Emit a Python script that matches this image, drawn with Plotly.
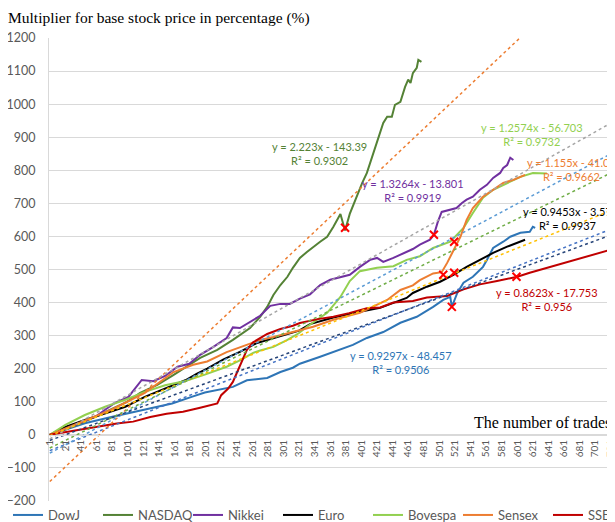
import plotly.graph_objects as go

# ---------------- data ----------------
names = ["DowJ", "NASDAQ", "Nikkei", "Euro", "Bovespa", "Sensex", "SSEC"]

dowj_t = [1, 21, 46, 80, 106, 132, 158, 183, 200, 236, 254, 280, 297, 313, 322, 348, 374, 390, 408, 429, 451, 472, 493, 506, 515, 517, 524, 532, 544, 557, 562, 570, 583, 592, 605, 617, 621, 624]
dowj_v = [0, 15, 35, 54, 68, 82, 95, 115, 128, 145, 165, 172, 190, 203, 215, 236, 257, 272, 293, 311, 339, 357, 387, 408, 417, 387, 429, 460, 478, 508, 529, 565, 584, 599, 611, 614, 629, 626]

nasdaq_t = [1, 20, 40, 60, 80, 100, 117, 139, 159, 177, 194, 216, 236, 258, 271, 280, 288, 297, 306, 313, 322, 331, 339, 348, 357, 365, 374, 380, 386, 393, 402, 408, 412, 416, 422, 429, 434, 440, 444, 451, 457, 461, 464, 467, 472, 474, 478]
nasdaq_v = [0, 15, 35, 55, 78, 100, 127, 151, 180, 206, 233, 257, 287, 323, 357, 387, 423, 453, 478, 505, 535, 553, 569, 584, 599, 629, 668, 618, 668, 711, 762, 792, 822, 853, 892, 943, 962, 962, 998, 1007, 1052, 1074, 1064, 1094, 1110, 1134, 1128]

nikkei_t = [1, 20, 40, 60, 72, 85, 102, 119, 134, 149, 165, 180, 194, 211, 228, 236, 245, 258, 271, 284, 297, 309, 322, 335, 348, 361, 374, 386, 399, 412, 421, 429, 442, 454, 467, 476, 489, 494, 499, 504, 515, 523, 530, 536, 544, 553, 562, 570, 579, 583, 588, 592, 596]
nikkei_v = [0, 18, 35, 55, 76, 97, 115, 166, 162, 178, 206, 215, 242, 266, 293, 325, 323, 342, 360, 390, 396, 396, 412, 425, 453, 469, 478, 484, 508, 529, 535, 523, 535, 547, 562, 575, 590, 605, 644, 674, 680, 686, 701, 711, 720, 741, 756, 777, 792, 807, 816, 838, 831]

euro_t = [1, 21, 46, 72, 98, 123, 149, 175, 190, 203, 224, 245, 267, 288, 306, 321, 335, 365, 399, 425, 442, 459, 467, 485, 502, 519, 536, 553, 570, 588, 601, 611]
euro_v = [0, 24, 45, 66, 85, 115, 140, 165, 185, 200, 228, 251, 278, 293, 305, 315, 335, 355, 372, 384, 399, 414, 429, 448, 463, 484, 508, 529, 550, 569, 580, 590]

bovespa_t = [1, 21, 46, 72, 98, 123, 149, 175, 200, 228, 245, 262, 271, 288, 306, 321, 331, 357, 374, 386, 399, 421, 442, 459, 476, 493, 515, 532, 544, 557, 570, 588, 605, 621, 639]
bovespa_v = [0, 30, 60, 85, 106, 130, 150, 163, 182, 206, 225, 248, 255, 266, 287, 308, 327, 369, 417, 465, 495, 505, 510, 529, 540, 565, 584, 626, 671, 717, 741, 762, 780, 792, 790]

sensex_t = [1, 20, 40, 80, 123, 160, 185, 203, 228, 245, 271, 288, 313, 339, 365, 399, 434, 451, 467, 476, 493, 504, 511, 519, 528, 536, 544, 557, 570, 583, 596, 605, 611]
sensex_v = [0, 18, 38, 76, 127, 190, 212, 222, 250, 265, 287, 296, 311, 327, 348, 369, 408, 438, 452, 468, 488, 492, 520, 559, 599, 650, 686, 720, 741, 762, 771, 780, 786]

ssec_t = [1, 21, 44, 65, 87, 108, 130, 151, 172, 194, 216, 221, 230, 236, 245, 254, 262, 270, 280, 297, 313, 322, 345, 365, 385, 408, 425, 442, 467, 485, 511, 532, 553, 575, 601, 617, 639, 660, 682, 703, 724, 732]
ssec_v = [0, 8, 15, 24, 34, 40, 54, 64, 70, 82, 95, 120, 140, 160, 210, 257, 280, 290, 305, 320, 330, 338, 350, 357, 368, 383, 385, 400, 405, 415, 420, 440, 455, 465, 478, 490, 505, 520, 535, 550, 562, 572]

# linear trendlines (as printed on the chart)
slopes = [0.9297, 2.223, 1.3264, 0.9453, 1.2574, 1.155, 0.8623]
intercepts = [-48.457, -143.39, -13.801, -3.57, -56.703, -41.02, -17.753]
r2_text = ["0.9506", "0.9302", "0.9919", "0.9937", "0.9732", "0.9662", "0.956"]

# red X marks
mark_t = [380, 494, 520, 506, 520, 600, 517]
mark_v = [626, 605, 584, 484, 490, 478, 387]

tick_vals = list(range(1, 722, 20))
tick_text = [str(v) for v in tick_vals]

# ---------------- styles ----------------
series_t = [dowj_t, nasdaq_t, nikkei_t, euro_t, bovespa_t, sensex_t, ssec_t]
series_v = [dowj_v, nasdaq_v, nikkei_v, euro_v, bovespa_v, sensex_v, ssec_v]
colors = ["#2E75B6", "#548235", "#7030A0", "#000000", "#92D050", "#ED7D31", "#C00000"]
trend_colors = ["#4472C4", "#ED7D31", "#A5A5A5", "#FFC000", "#5B9BD5", "#70AD47", "#264478"]
# label anchor positions (trade, value), in series order
label_pos = [(452, 218), (347, 850), (467, 740), (666, 653), (620, 907), (670, 801), (639, 408)]

# page geometry (body margin 8px; figure is wider/taller than the window,
# so the right part is cropped like the reference)
OFF = 8
W, H = 700, 526
L, R, T = 49 - OFF, 0, 38 - OFF
B = H - (501 - OFF)
pw, ph = W - L - R, H - T - B
px_per_trade = 561 / 720
x_max = (OFF + W - 49) / px_per_trade


def px_x(p):
    return (p - OFF - L) / pw


def px_y(p):
    return (H - B - (p - OFF)) / ph


fig = go.Figure()
for n, t, v, c in zip(names, series_t, series_v, colors):
    fig.add_trace(go.Scatter(x=t, y=v, mode="lines", name=n,
                             line=dict(color=c, width=2)))

x_end = 850
for s, b, c in zip(slopes, intercepts, trend_colors):
    fig.add_trace(go.Scatter(x=[1, x_end], y=[s * 1 + b, s * x_end + b], mode="lines",
                             line=dict(color=c, width=1.5, dash="dot"),
                             showlegend=False, hoverinfo="skip"))

fig.add_trace(go.Scatter(x=mark_t, y=mark_v, mode="markers", showlegend=False,
                         marker=dict(symbol="x-thin", size=8, color="#FF0000",
                                     line=dict(color="#FF0000", width=2))))

annotations = []
for (lx, ly), s, b, r, c in zip(label_pos, slopes, intercepts, r2_text, colors):
    annotations.append(dict(x=lx, y=ly, xref="x", yref="y", showarrow=False,
                            text=f"y = {s}x - {abs(b)}<br>R² = {r}", align="center",
                            font=dict(family="Lato", size=11, color=c)))

annotations.append(dict(x=px_x(6), y=px_y(18), xref="paper", yref="paper", showarrow=False,
                        text="Multiplier for base stock price in percentage (%)",
                        xanchor="left", yanchor="middle",
                        font=dict(family="Liberation Serif", size=15.5, color="#000000")))
annotations.append(dict(x=px_x(613), y=px_y(422), xref="paper", yref="paper", showarrow=False,
                        text="The number of trades", xanchor="right", yanchor="middle",
                        font=dict(family="Liberation Serif", size=16, color="#000000")))

fig.update_layout(
    width=W, height=H,
    margin=dict(l=L, r=R, t=T, b=B, autoexpand=False),
    plot_bgcolor="white", paper_bgcolor="white",
    annotations=annotations,
    showlegend=True,
    legend=dict(orientation="h", x=px_x(8), y=px_y(515), xanchor="left", yanchor="middle",
                font=dict(family="Lato", size=13, color="#595959"),
                entrywidth=45, entrywidthmode="pixels", itemwidth=30,
                bgcolor="rgba(0,0,0,0)"),
    xaxis=dict(range=[0, x_max], tickvals=tick_vals, ticktext=tick_text, tickangle=-90,
               tickfont=dict(family="Lato", size=10, color="#595959"),
               anchor="free", position=200 / 1400, showline=True, linecolor="#D9D9D9",
               showgrid=False, zeroline=False, ticks=""),
    yaxis=dict(range=[-200, 1200], tick0=0, dtick=100, gridcolor="#D9D9D9",
               showline=True, linecolor="#D9D9D9", zeroline=True, zerolinecolor="#D9D9D9",
               zerolinewidth=1, tickfont=dict(family="Lato", size=12.5, color="#595959"),
               ticks="", ticklabelstandoff=10),
)

fig.write_html("out.html")
